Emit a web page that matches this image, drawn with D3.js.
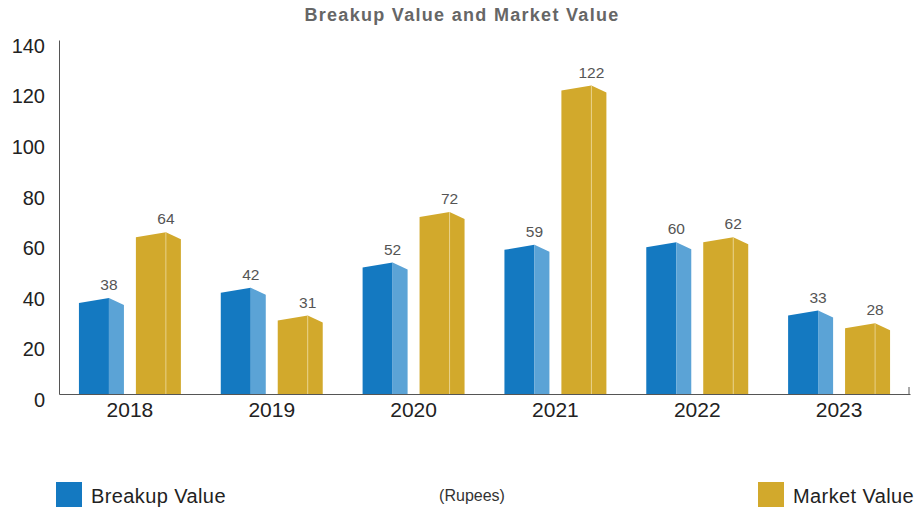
<!DOCTYPE html>
<html>
<head>
<meta charset="utf-8">
<script src="https://cdn.jsdelivr.net/npm/d3@7"></script>
<style>
  body { margin: 0; background: #fff; }
  text { font-family: "Liberation Sans", Arial, sans-serif; }
</style>
</head>
<body>
<svg id="chart" width="918" height="514"></svg>
<script>
"use strict"

// data
var years = ["2018", "2019", "2020", "2021", "2022", "2023"];
var breakupValue = [38, 42, 52, 59, 60, 33];
var marketValue = [64, 31, 72, 122, 62, 28];
var yTicks = [0, 20, 40, 60, 80, 100, 120, 140];

var series = [
    { key: "breakup", name: "Breakup Value", values: breakupValue, front: "#1479c1", side: "#5ba3d6" },
    { key: "market", name: "Market Value", values: marketValue, front: "#d2a92c", side: "#d2a92c" }
];

var svg = d3.select("#chart");

var plotLeft = 59, plotRight = 910, plotTop = 40, plotBottom = 394;

var x0 = d3.scaleBand().domain(years).range([plotLeft, plotRight]);
var x1 = d3.scaleBand().domain(series.map(function(s){ return s.key; }))
    .range([0, x0.bandwidth()])
    .paddingInner(0.21)
    .paddingOuter(0.35);
var y = d3.scaleLinear().domain([0, 140]).range([plotBottom, plotTop]);

// title
svg.append("text")
    .attr("x", 462)
    .attr("y", 21)
    .attr("text-anchor", "middle")
    .style("font-size", "18px")
    .style("letter-spacing", "1.3px")
    .style("font-weight", "bold")
    .style("fill", "#666")
    .text("Breakup Value and Market Value");

// y axis
var yAxis = svg.append("g")
    .attr("transform", "translate(" + plotLeft + ",0)")
    .call(d3.axisLeft(y).tickValues(yTicks).tickSize(0).tickPadding(14));
yAxis.select(".domain").attr("stroke", "#555");
yAxis.selectAll("text")
    .attr("dy", "0.62em")
    .style("font-size", "20px")
    .style("fill", "#222")
    .style("font-family", "Liberation Sans, Arial, sans-serif");

// x axis
var xAxis = svg.append("g")
    .attr("transform", "translate(0," + plotBottom + ")")
    .call(d3.axisBottom(x0).tickSize(0).tickPadding(8));
xAxis.select(".domain").attr("stroke", "#555");
xAxis.selectAll("text")
    .style("font-size", "21px")
    .style("fill", "#222")
    .style("font-family", "Liberation Sans, Arial, sans-serif");
svg.append("line")
    .attr("x1", plotRight - 1).attr("x2", plotRight - 1)
    .attr("y1", plotBottom).attr("y2", plotBottom - 7)
    .attr("stroke", "#555");

// bars
var data = [];
years.forEach(function(yr, i){
    series.forEach(function(s){
        data.push({ year: yr, key: s.key, value: s.values[i], s: s });
    });
});

var bars = svg.append("g").selectAll("g")
    .data(data)
    .enter()
    .append("g")
    .attr("transform", function(d){
        return "translate(" + (x0(d.year) + x1(d.key)) + ",0)";
    });

var bw = x1.bandwidth();
var fw = bw * 2 / 3;

bars.append("path")
    .attr("fill", function(d){ return d.s.front; })
    .attr("d", function(d){
        var yv = y(d.value);
        return "M0," + plotBottom + "L0," + (yv + 5) + "L" + fw + "," + yv + "L" + fw + "," + plotBottom + "Z";
    });

bars.append("path")
    .attr("fill", function(d){ return d.s.side; })
    .attr("d", function(d){
        var yv = y(d.value);
        return "M" + fw + "," + plotBottom + "L" + fw + "," + yv + "L" + bw + "," + (yv + 7) + "L" + bw + "," + plotBottom + "Z";
    });

// seam on the yellow bars
bars.filter(function(d){ return d.key === "market"; })
    .append("line")
    .attr("x1", fw).attr("x2", fw)
    .attr("y1", function(d){ return y(d.value); })
    .attr("y2", plotBottom)
    .attr("stroke", "#ecd796")
    .attr("stroke-width", 0.8);

bars.append("text")
    .attr("x", fw)
    .attr("y", function(d){ return y(d.value) - 8; })
    .attr("text-anchor", "middle")
    .style("font-size", "15.5px")
    .style("fill", "#555")
    .text(function(d){ return d.value; });

// legend
var legend = svg.append("g").style("font-size", "20px").style("letter-spacing", "0.4px");
var legendX = [56, 758];
series.forEach(function(s, i){
    legend.append("rect")
        .attr("x", legendX[i])
        .attr("y", 482)
        .attr("width", 26)
        .attr("height", 25)
        .attr("fill", s.front);
    legend.append("text")
        .attr("x", legendX[i] + 35)
        .attr("y", 503)
        .style("fill", "#222")
        .text(s.name);
});

svg.append("text")
    .attr("x", 472)
    .attr("y", 501)
    .attr("text-anchor", "middle")
    .style("font-size", "16px")
    .style("fill", "#333")
    .text("(Rupees)");
</script>
</body>
</html>
